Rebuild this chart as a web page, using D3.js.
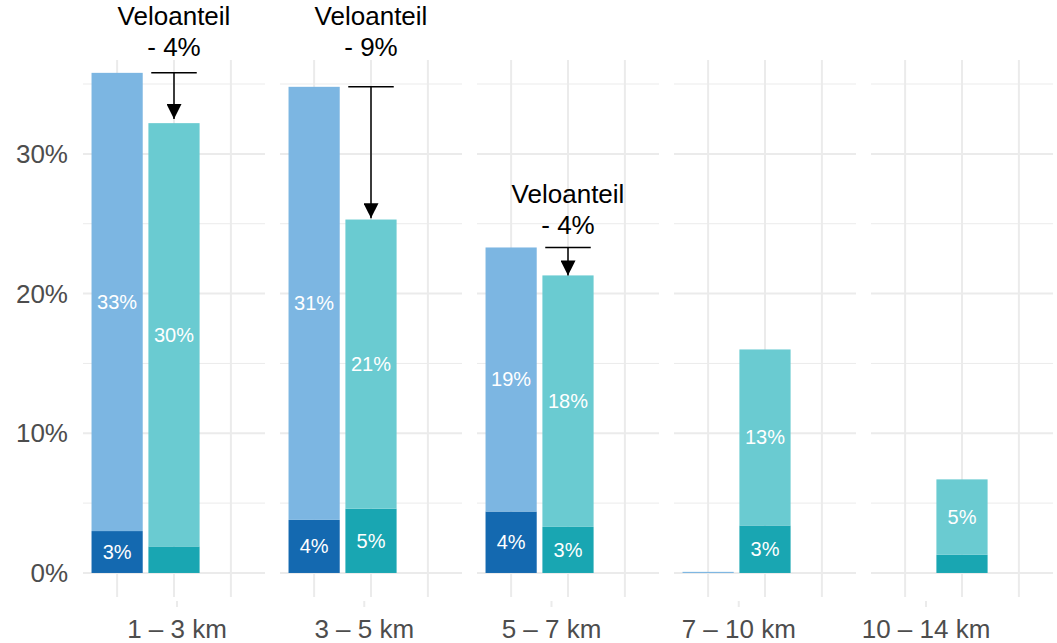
<!DOCTYPE html>
<html lang="de">
<head>
    <meta charset="UTF-8">
    <title>Veloanteil nach Distanz</title>
    <script src="https://d3js.org/d3.v7.min.js"></script>
    <style>
        body { margin: 0; background: #fff; }
        svg { font-family: "Liberation Sans", Arial, Helvetica, sans-serif; }
        .grid-major { stroke: #ebebeb; stroke-width: 2; }
        .grid-minor { stroke: #ebebeb; stroke-width: 1; }
        .axis-label { font-size: 26px; fill: #4d4d4d; }
        .bar-label { font-size: 20px; fill: #fff; }
        .anno { font-size: 26px; fill: #000; }
    </style>
</head>
<body>
    <script>
        // Distanzklassen (Facetten)
        const categories = ["1 – 3 km", "3 – 5 km", "5 – 7 km", "7 – 10 km", "10 – 14 km"];
        // Anteile in %, je Balken unterer (dunkler) und oberer (heller) Teil
        const blueDark  = [3.0, 3.8, 4.4, 0, null];
        const blueLight = [32.8, 31.0, 18.9, 0.08, null];
        const tealDark  = [1.9, 4.6, 3.3, 3.4, 1.3];
        const tealLight = [30.3, 20.7, 18.0, 12.6, 5.4];

        const yTicks = [0, 10, 20, 30];
        const yMinor = [5, 15, 25, 35];

        // Annotationen "Veloanteil"
        const annoCat   = [0, 1, 2];
        const annoText  = ["- 4%", "- 9%", "- 4%"];
        const arrowFrom = [35.8, 34.8, 23.3];
        const arrowTo   = [32.5, 25.4, 21.3];
        const annoY     = [37.0, 37.0, 24.3];

        const width = 1057, height = 643;
        const colors = {
            blueDark: "#1469b0", blueLight: "#7cb6e2",
            tealDark: "#19a6b2", tealLight: "#6acbd1"
        };

        const svg = d3.select("body").append("svg")
            .attr("width", width)
            .attr("height", height);

        const panelX = d3.scaleBand()
            .domain(categories)
            .range([83, 1053])
            .paddingInner(15 / 197)
            .paddingOuter(0);

        const innerX = d3.scalePoint()
            .domain(["blue", "teal", "empty"])
            .range([0, panelX.bandwidth()])
            .padding(0.6);
        const barW = innerX.step() * 0.9;

        const y = d3.scaleLinear()
            .domain([-1.72, 36.72])
            .range([597, 60]);

        // y-Achse
        svg.selectAll(".ylab")
            .data(yTicks)
            .enter()
            .append("text")
            .attr("class", "axis-label")
            .attr("x", 68)
            .attr("y", d => y(d))
            .attr("dy", "0.35em")
            .attr("text-anchor", "end")
            .text(d => d + "%");

        const panels = svg.selectAll(".panel")
            .data(categories)
            .enter()
            .append("g")
            .attr("class", "panel")
            .attr("transform", d => `translate(${panelX(d)},0)`);

        panels.each(function(cat, i) {
            const g = d3.select(this);
            const pw = panelX.bandwidth();

            g.selectAll(".hminor").data(yMinor).enter().append("line")
                .attr("class", "grid-minor")
                .attr("x1", 0).attr("x2", pw)
                .attr("y1", d => y(d)).attr("y2", d => y(d));
            g.selectAll(".hmajor").data(yTicks).enter().append("line")
                .attr("class", "grid-major")
                .attr("x1", 0).attr("x2", pw)
                .attr("y1", d => y(d)).attr("y2", d => y(d));
            g.selectAll(".vgrid").data(innerX.domain()).enter().append("line")
                .attr("class", "grid-major")
                .attr("x1", d => innerX(d)).attr("x2", d => innerX(d))
                .attr("y1", y.range()[1]).attr("y2", y.range()[0]);

            const stacks = [
                { key: "blue", dark: blueDark[i], light: blueLight[i], cd: colors.blueDark, cl: colors.blueLight },
                { key: "teal", dark: tealDark[i], light: tealLight[i], cd: colors.tealDark, cl: colors.tealLight }
            ];
            stacks.forEach(s => {
                if (s.dark == null) return;
                const cx = innerX(s.key);
                const segs = [
                    { y0: 0, y1: s.dark, c: s.cd },
                    { y0: s.dark, y1: s.dark + s.light, c: s.cl }
                ];
                segs.forEach(seg => {
                    const v = seg.y1 - seg.y0;
                    if (v <= 0) return;
                    g.append("rect")
                        .attr("x", cx - barW / 2)
                        .attr("width", barW)
                        .attr("y", y(seg.y1))
                        .attr("height", Math.max(1, y(seg.y0) - y(seg.y1)))
                        .attr("fill", seg.c);
                    if (v >= 2) {
                        g.append("text")
                            .attr("class", "bar-label")
                            .attr("x", cx)
                            .attr("y", y((seg.y0 + seg.y1) / 2))
                            .attr("dy", "0.35em")
                            .attr("text-anchor", "middle")
                            .text(Math.round(v) + "%");
                    }
                });
            });
        });

        // Annotationen
        const marker = svg.append("defs").append("marker")
            .attr("id", "arrow")
            .attr("viewBox", "0 0 10 10")
            .attr("refX", 10).attr("refY", 5)
            .attr("markerUnits", "userSpaceOnUse")
            .attr("markerWidth", 15).attr("markerHeight", 15)
            .attr("orient", "auto");
        marker.append("path").attr("d", "M0,0 L10,5 L0,10 Z").attr("fill", "#000");

        annoCat.forEach((ci, k) => {
            const cx = panelX(categories[ci]) + innerX("teal");
            const hw = innerX.step() * 0.4;
            svg.append("line")
                .attr("x1", cx - hw).attr("x2", cx + hw)
                .attr("y1", y(arrowFrom[k])).attr("y2", y(arrowFrom[k]))
                .attr("stroke", "#000").attr("stroke-width", 1.5);
            svg.append("line")
                .attr("x1", cx).attr("x2", cx)
                .attr("y1", y(arrowFrom[k])).attr("y2", y(arrowTo[k]))
                .attr("stroke", "#000").attr("stroke-width", 1.5)
                .attr("marker-end", "url(#arrow)");
            const t = svg.append("text")
                .attr("class", "anno")
                .attr("text-anchor", "middle")
                .attr("x", cx)
                .attr("y", y(annoY[k]));
            t.append("tspan").attr("x", cx).attr("dy", "-31").text("Veloanteil");
            t.append("tspan").attr("x", cx).attr("dy", "31").text(annoText[k]);
        });

        // x-Achse (Distanzklassen)
        const axisX = d3.scalePoint()
            .domain(categories)
            .range([177, 926]);

        svg.selectAll(".xtick")
            .data(categories)
            .enter()
            .append("line")
            .attr("class", "grid-major")
            .attr("x1", d => axisX(d)).attr("x2", d => axisX(d))
            .attr("y1", 601).attr("y2", 607);

        svg.selectAll(".xlab")
            .data(categories)
            .enter()
            .append("text")
            .attr("class", "axis-label")
            .attr("x", d => axisX(d))
            .attr("y", 638)
            .attr("text-anchor", "middle")
            .text(d => d);
    </script>
</body>
</html>
